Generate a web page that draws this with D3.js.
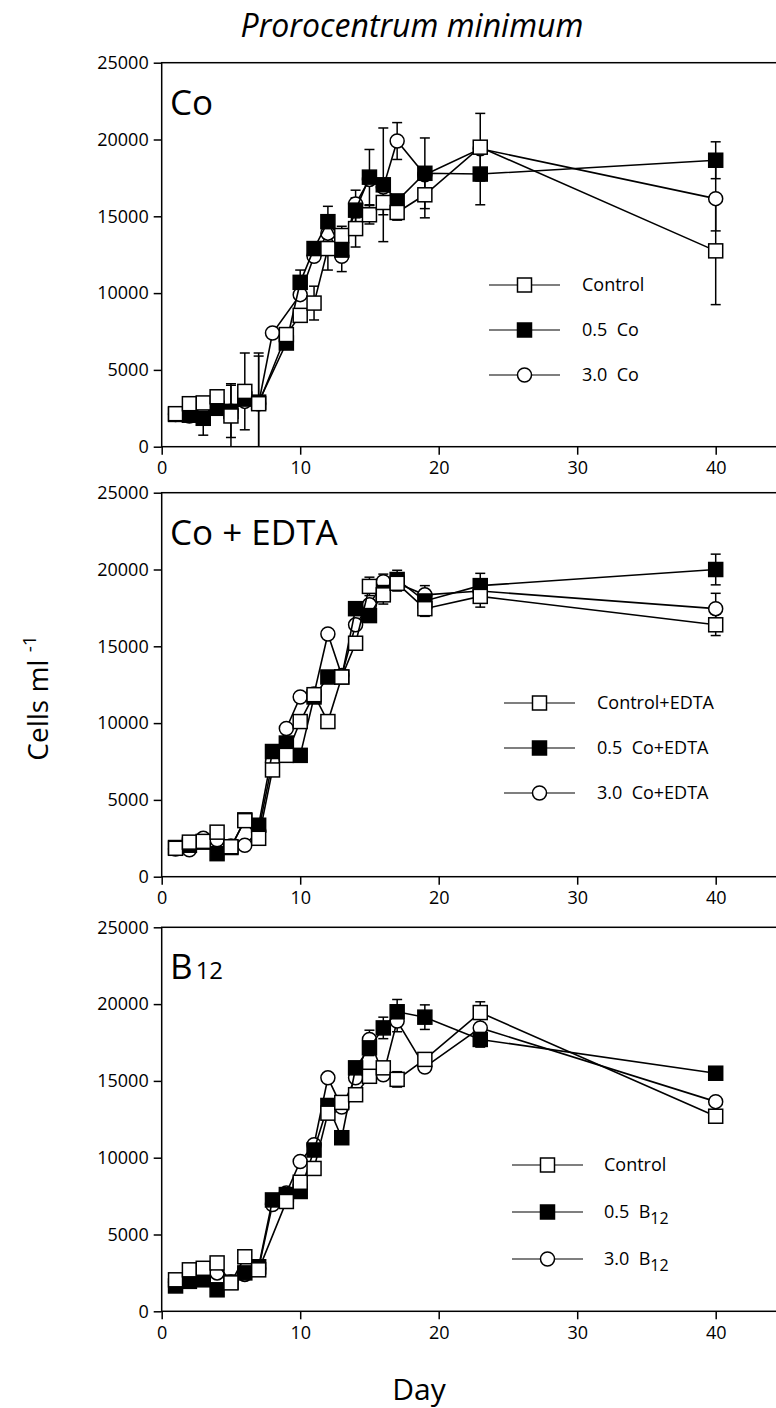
<!DOCTYPE html>
<html><head><meta charset="utf-8">
<script src="https://cdn.jsdelivr.net/npm/d3@7"></script>
<style>body{margin:0;background:#fff}svg{display:block}text{font-family:"Open Sans",sans-serif;fill:#000}</style>
</head><body><svg id="c" width="776" height="1408"></svg>
<script>
// ---------- DATA ----------
const xTicks = [0, 10, 20, 30, 40];
const yTicks = [0, 5000, 10000, 15000, 20000, 25000];

// Panel 1: Co
const coControlDays = [1,2,3,4,5,6,7,9,10,11,12,13,14,15,16,17,19,23,40];
const coControl     = [2150,2800,2850,3250,2000,3600,2800,7300,8550,9350,12900,13750,14200,15100,15900,15250,16400,19500,12750];
const coControlErr  = [0,0,0,0,2100,2500,3300,0,300,1100,1400,600,1200,600,800,500,1500,2200,3500];
const coHalfDays    = [1,2,3,4,5,6,7,9,10,11,12,13,14,15,16,17,19,23,40];
const coHalf        = [2100,2050,1850,2500,2300,3100,2900,6750,10700,12900,14650,12800,15400,17550,17050,16000,17800,17750,18650];
const coHalfErr     = [0,0,1100,0,1700,0,3000,0,800,300,1000,500,800,1800,3700,0,2300,2000,1200];
const coThreeDays   = [1,2,3,4,5,6,7,8,10,11,12,13,14,15,16,17,19,23,40];
const coThree       = [2100,2000,2100,2600,2300,2950,2800,7400,9900,12400,13900,12400,15800,17400,16900,19900,17700,19400,16150];
const coThreeErr    = [0,0,0,0,0,0,0,0,300,0,0,1000,900,0,0,1200,0,0,2100];

// Panel 2: Co + EDTA
const edDays        = [1,2,3,4,5,6,7,8,9,10,11,12,13,14,15,16,17,19,23,40];
const edControl     = [1850,2250,2300,2900,1950,3650,2500,6950,7900,10100,11850,10100,13000,15200,18900,18350,19100,17450,18250,16400];
const edControlErr  = [0,0,0,0,0,0,0,0,0,0,0,0,0,0,600,600,500,500,700,700];
const edHalf        = [1900,2050,2250,1500,1900,3700,3350,8150,8700,7900,11700,13000,13000,17450,17000,18500,19350,17950,18950,20000];
const edHalfErr     = [0,0,0,0,0,0,0,0,0,0,0,0,0,0,0,0,600,0,800,1000];
const edThree       = [1800,1750,2500,2400,2000,2050,3000,7500,9650,11700,11900,15800,13100,16400,17700,19200,19100,18350,18600,17450];
const edThreeErr    = [0,0,0,0,0,0,0,0,0,0,0,0,0,0,0,500,0,600,0,1000];

// Panel 3: B12
const bControlDays  = [1,2,3,4,5,6,7,9,10,11,12,13,14,15,16,17,19,23,40];
const bControl      = [2050,2700,2800,3150,1850,3550,2700,7150,8400,9300,12900,13600,14100,15300,15850,15100,16400,19450,12700];
const bControlErr   = [0,0,0,0,0,0,0,0,0,0,0,0,0,0,0,500,0,700,0];
const bDays         = [1,2,3,4,5,6,7,8,9,10,11,12,13,14,15,16,17,19,23,40];
const bHalf         = [1650,1950,2050,1400,1900,2500,2900,7250,7600,7800,10500,13400,11300,15850,17150,18450,19500,19150,17700,15500];
const bHalfErr      = [0,0,0,0,0,0,0,0,0,0,0,0,0,0,500,700,800,800,500,0];
const bThree        = [1900,2000,2300,2500,1900,2400,2800,6950,7700,9750,10850,15200,13300,15200,17700,15400,18900,15900,18450,13650];
const bThreeErr     = [0,0,0,0,0,0,0,0,0,0,0,0,0,0,600,0,700,0,0,0];

const panelNames = ["Co", "Co + EDTA", "B12"];
const legendCo   = ["Control", "0.5  Co", "3.0  Co"];
const legendEd   = ["Control+EDTA", "0.5  Co+EDTA", "3.0  Co+EDTA"];
const legendB    = ["Control", "0.5  B", "3.0  B"];

// ---------- LAYOUT ----------
const svg = d3.select("#c");
const x0 = 161.7, dayPx = 13.85;
const x = d3.scaleLinear().domain([0, 45]).range([x0, x0 + 45 * dayPx]);
const tops = [62.7, 492.7, 927.3];
const ph = 384;

const panels = [
  {series: [
    {days: coThreeDays, v: coThree, e: coThreeErr, sym: "circle"},
    {days: coHalfDays, v: coHalf, e: coHalfErr, sym: "filled"},
    {days: coControlDays, v: coControl, e: coControlErr, sym: "open"}],
   legend: legendCo, leg: {x1: 489, x2: 560, tx: 582, ys: [285, 330, 375]}},
  {series: [
    {days: edDays, v: edThree, e: edThreeErr, sym: "circle"},
    {days: edDays, v: edHalf, e: edHalfErr, sym: "filled"},
    {days: edDays, v: edControl, e: edControlErr, sym: "open"}],
   legend: legendEd, leg: {x1: 504, x2: 575, tx: 597, ys: [703, 748, 793]}},
  {series: [
    {days: bDays, v: bThree, e: bThreeErr, sym: "circle"},
    {days: bDays, v: bHalf, e: bHalfErr, sym: "filled"},
    {days: bControlDays, v: bControl, e: bControlErr, sym: "open"}],
   legend: legendB, leg: {x1: 512, x2: 583, tx: 604, ys: [1165, 1212, 1259]}}
];

function marker(g, sym, cx, cy) {
  if (sym === "circle") {
    g.append("circle").attr("cx", cx).attr("cy", cy).attr("r", 7)
      .attr("fill", "#fff").attr("stroke", "#000").attr("stroke-width", 1.5);
  } else {
    g.append("rect").attr("x", cx - 7).attr("y", cy - 7).attr("width", 14).attr("height", 14)
      .attr("fill", sym === "filled" ? "#000" : "#fff").attr("stroke", "#000").attr("stroke-width", 1.5);
  }
}

panels.forEach((p, i) => {
  const top = tops[i];
  const y = d3.scaleLinear().domain([0, 25000]).range([top + ph, top]);
  const g = svg.append("g");

  g.append("rect").attr("x", x0).attr("y", top).attr("width", 640).attr("height", ph)
    .attr("fill", "none").attr("stroke", "#000").attr("stroke-width", 1.5);

  const ax = g.append("g").attr("transform", `translate(0,${top + ph})`)
    .call(d3.axisBottom(x).tickValues(xTicks).tickSize(8).tickPadding(7).tickFormat(d3.format("d")));
  const ay = g.append("g").attr("transform", `translate(${x0},0)`)
    .call(d3.axisLeft(y).tickValues(yTicks).tickSize(8).tickPadding(5).tickFormat(d3.format("d")));
  [ax, ay].forEach(a => {
    a.select(".domain").remove();
    a.selectAll("line").attr("stroke", "#000").attr("stroke-width", 1.5);
    a.selectAll("text").style("font-family", '"Open Sans",sans-serif').style("font-size", "18px").attr("fill", "#000");
  });

  const data = p.series;
  data.forEach(s => {
    s.days.forEach((d, k) => {
      const e = s.e[k];
      if (!e) return;
      const cx = x(d);
      const yh = y(s.v[k] + e), yl = y(Math.max(0, s.v[k] - e));
      g.append("line").attr("x1", cx).attr("x2", cx).attr("y1", yh).attr("y2", yl)
        .attr("stroke", "#000").attr("stroke-width", 1.5);
      g.append("line").attr("x1", cx - 5).attr("x2", cx + 5).attr("y1", yh).attr("y2", yh)
        .attr("stroke", "#000").attr("stroke-width", 1.5);
      if (s.v[k] - e > 0)
        g.append("line").attr("x1", cx - 5).attr("x2", cx + 5).attr("y1", yl).attr("y2", yl)
          .attr("stroke", "#000").attr("stroke-width", 1.5);
    });
  });
  data.forEach(s => {
    const pts = s.days.map((d, k) => [x(d), y(s.v[k])]);
    g.append("path").attr("d", d3.line()(pts)).attr("fill", "none")
      .attr("stroke", "#000").attr("stroke-width", 1.6);
    pts.forEach(pt => marker(g, s.sym, pt[0], pt[1]));
  });

  const lab = g.append("text").attr("x", 170).attr("y", top + 52).style("font-size", "35px");
  if (i === 2) {
    lab.append("tspan").text("B");
    lab.append("tspan").text("12").style("font-size", "24px").attr("dx", 3);
  } else lab.text(panelNames[i]);

  const syms = ["open", "filled", "circle"];
  p.legend.forEach((t, k) => {
    const ly = p.leg.ys[k];
    g.append("line").attr("x1", p.leg.x1).attr("x2", p.leg.x2).attr("y1", ly).attr("y2", ly)
      .attr("stroke", "#000").attr("stroke-width", 1.2);
    marker(g, syms[k], (p.leg.x1 + p.leg.x2) / 2, ly);
    const tt = g.append("text").attr("x", p.leg.tx).attr("y", ly + 6).style("font-size", "18px")
      .attr("xml:space", "preserve").style("white-space", "pre");
    tt.append("tspan").text(t);
    if (i === 2 && k > 0) tt.append("tspan").text("12").style("font-size", "16px").attr("dy", 6);
  });
});

svg.append("text").attr("x", 412).attr("y", 37).attr("text-anchor", "middle")
  .style("font-size", "32px").style("font-style", "italic").text("Prorocentrum minimum");
svg.append("text").attr("x", 419).attr("y", 1400).attr("text-anchor", "middle")
  .style("font-size", "30px").text("Day");
const yl = svg.append("text").attr("transform", "translate(48,698) rotate(-90)")
  .attr("text-anchor", "middle").style("font-size", "28px");
yl.append("tspan").text("Cells ml ");
yl.append("tspan").text(" -1").style("font-size", "19px").attr("dy", -12);
</script></body></html>
